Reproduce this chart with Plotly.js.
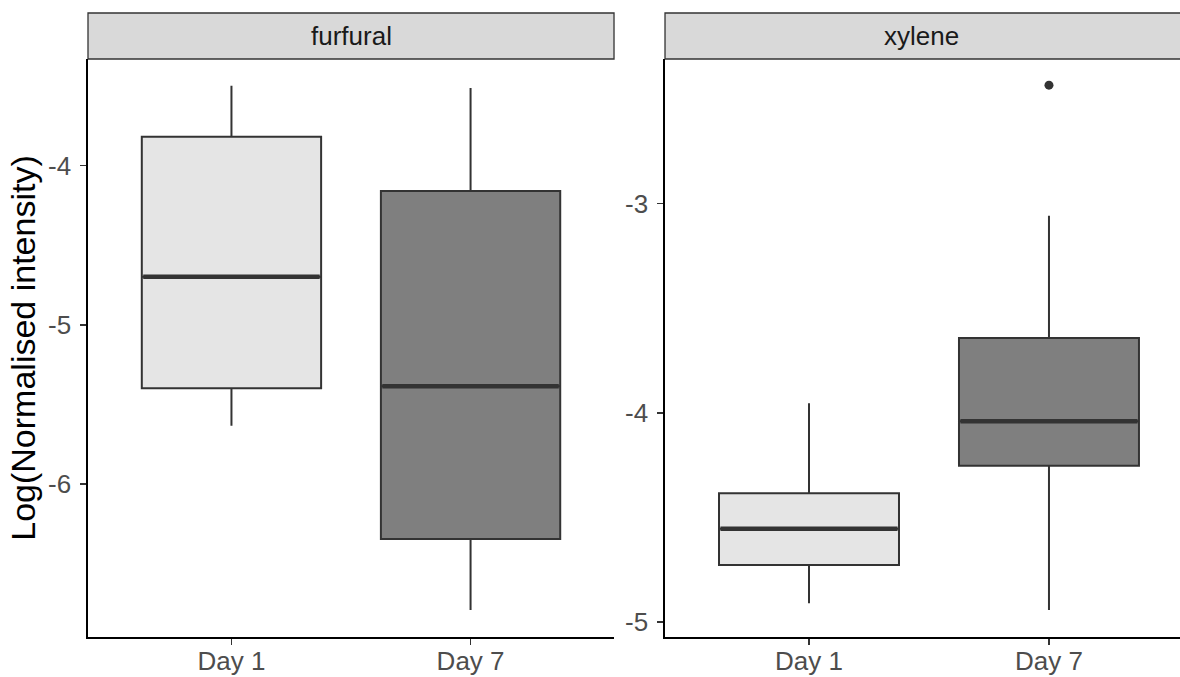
<!DOCTYPE html>
<html>
<head>
<meta charset="utf-8">
<script src="https://cdn.plot.ly/plotly-3.0.1.min.js"></script>
<style>
  html, body { margin: 0; padding: 0; background: #ffffff; }
  #chart { width: 1180px; height: 677px; }
</style>
</head>
<body>
<div id="chart"></div>
<script>
// Sampling days shown on both panels
const dayLabels = ['Day 1', 'Day 7'];
const panelNames = ['furfural', 'xylene'];

// Y tick values and their printed labels per panel
const furfuralTicks = [-6, -5, -4];
const furfuralTickText = ['-6', '-5', '-4'];
const xyleneTicks = [-5, -4, -3];
const xyleneTickText = ['-5', '-4', '-3'];

// furfural: five-number summaries per day
const furfuralLower  = [-5.634, -6.791];
const furfuralQ1     = [-5.399, -6.345];
const furfuralMedian = [-4.698, -5.387];
const furfuralQ3     = [-3.819, -4.160];
const furfuralUpper  = [-3.499, -3.513];

// xylene: five-number summaries per day
const xyleneLower  = [-4.911, -4.943];
const xyleneQ1     = [-4.728, -4.253];
const xyleneMedian = [-4.554, -4.041];
const xyleneQ3     = [-4.385, -3.643];
const xyleneUpper  = [-3.955, -3.058];

// xylene outliers
const xyleneOutlierDay   = [1];
const xyleneOutlierValue = [-2.434];

// Fill colour per day
const dayFills = ['#E5E5E5', '#7F7F7F'];

const BOX_WIDTH = 0.75;
const EDGE = '#333333';
const FONT = 'Liberation Sans, Arial, sans-serif';

function panelTraces(lower, q1, med, q3, upper, xa, ya) {
  const traces = [];
  dayLabels.forEach((d, i) => {
    traces.push({
      type: 'box',
      x: [i],
      lowerfence: [lower[i]],
      q1: [q1[i]],
      median: [med[i]],
      q3: [q3[i]],
      upperfence: [upper[i]],
      width: BOX_WIDTH,
      whiskerwidth: 0,
      boxpoints: false,
      fillcolor: dayFills[i],
      line: { color: EDGE, width: 2 },
      xaxis: xa, yaxis: ya,
      showlegend: false,
      hoverinfo: 'skip'
    });
    // heavier median bar across the box
    traces.push({
      type: 'scatter',
      mode: 'lines',
      x: [i - BOX_WIDTH / 2 + 0.006, i + BOX_WIDTH / 2 - 0.006],
      y: [med[i], med[i]],
      line: { color: EDGE, width: 4.5 },
      xaxis: xa, yaxis: ya,
      showlegend: false,
      hoverinfo: 'skip'
    });
  });
  return traces;
}

const data = []
  .concat(panelTraces(furfuralLower, furfuralQ1, furfuralMedian, furfuralQ3, furfuralUpper, 'x', 'y'))
  .concat(panelTraces(xyleneLower, xyleneQ1, xyleneMedian, xyleneQ3, xyleneUpper, 'x2', 'y2'));

data.push({
  type: 'scatter',
  mode: 'markers',
  x: xyleneOutlierDay,
  y: xyleneOutlierValue,
  marker: { color: EDGE, size: 9 },
  xaxis: 'x2', yaxis: 'y2',
  showlegend: false,
  hoverinfo: 'skip'
});

// Layout geometry (paper fractions inside the margins)
const leftDomain = [0, 0.4817];
const rightDomain = [0.5284, 1];
const panelTop = 0.9263;

const xCommon = {
  tickmode: 'array',
  tickvals: dayLabels.map((d, i) => i),
  ticktext: dayLabels,
  showgrid: false,
  zeroline: false,
  showline: true,
  linecolor: '#000000',
  linewidth: 1.6,
  ticks: 'outside',
  ticklen: 6,
  tickwidth: 1.6,
  tickcolor: EDGE,
  ticklabelstandoff: -6,
  tickfont: { family: FONT, size: 26, color: '#4D4D4D' },
  fixedrange: true
};
const yCommon = {
  tickmode: 'array',
  showgrid: false,
  zeroline: false,
  showline: true,
  linecolor: '#000000',
  linewidth: 1.6,
  ticks: 'outside',
  ticklen: 6,
  tickwidth: 1.6,
  tickcolor: EDGE,
  ticklabelstandoff: 4,
  tickfont: { family: FONT, size: 26, color: '#4D4D4D' },
  fixedrange: true
};

const stripStyle = { fillcolor: '#D9D9D9', line: { color: EDGE, width: 1.3 }, layer: 'below' };

const layout = {
  width: 1180,
  height: 677,
  margin: { l: 88, r: 0, t: 13, b: 40 },
  paper_bgcolor: '#ffffff',
  plot_bgcolor: '#ffffff',
  showlegend: false,
  xaxis: Object.assign({}, xCommon, { domain: leftDomain, range: [-0.6, 1.6], anchor: 'y' }),
  yaxis: Object.assign({}, yCommon, {
    domain: [0, panelTop], range: [-6.961, -3.331], anchor: 'x',
    tickvals: furfuralTicks, ticktext: furfuralTickText,
    title: { text: 'Log(Normalised intensity)', font: { family: FONT, size: 34, color: '#000000' }, standoff: 2 }
  }),
  xaxis2: Object.assign({}, xCommon, { domain: rightDomain, range: [-0.6, 1.546], anchor: 'y2' }),
  yaxis2: Object.assign({}, yCommon, {
    domain: [0, panelTop], range: [-5.072, -2.309], anchor: 'x2',
    tickvals: xyleneTicks, ticktext: xyleneTickText
  }),
  shapes: [
    Object.assign({ type: 'rect', xref: 'paper', yref: 'paper', x0: leftDomain[0], x1: leftDomain[1], y0: panelTop, y1: 1 }, stripStyle),
    Object.assign({ type: 'rect', xref: 'paper', yref: 'paper', x0: rightDomain[0], x1: 1.02, y0: panelTop, y1: 1 }, stripStyle)
  ],
  annotations: [
    { text: panelNames[0], xref: 'paper', yref: 'paper', x: (leftDomain[0] + leftDomain[1]) / 2, y: (panelTop + 1) / 2,
      xanchor: 'center', yanchor: 'middle', showarrow: false, font: { family: FONT, size: 26, color: '#1A1A1A' } },
    { text: panelNames[1], xref: 'paper', yref: 'paper', x: (rightDomain[0] + 1) / 2 - 0.001, y: (panelTop + 1) / 2,
      xanchor: 'center', yanchor: 'middle', showarrow: false, font: { family: FONT, size: 26, color: '#1A1A1A' } }
  ]
};

Plotly.newPlot('chart', data, layout, { staticPlot: true, displayModeBar: false });
</script>
</body>
</html>
